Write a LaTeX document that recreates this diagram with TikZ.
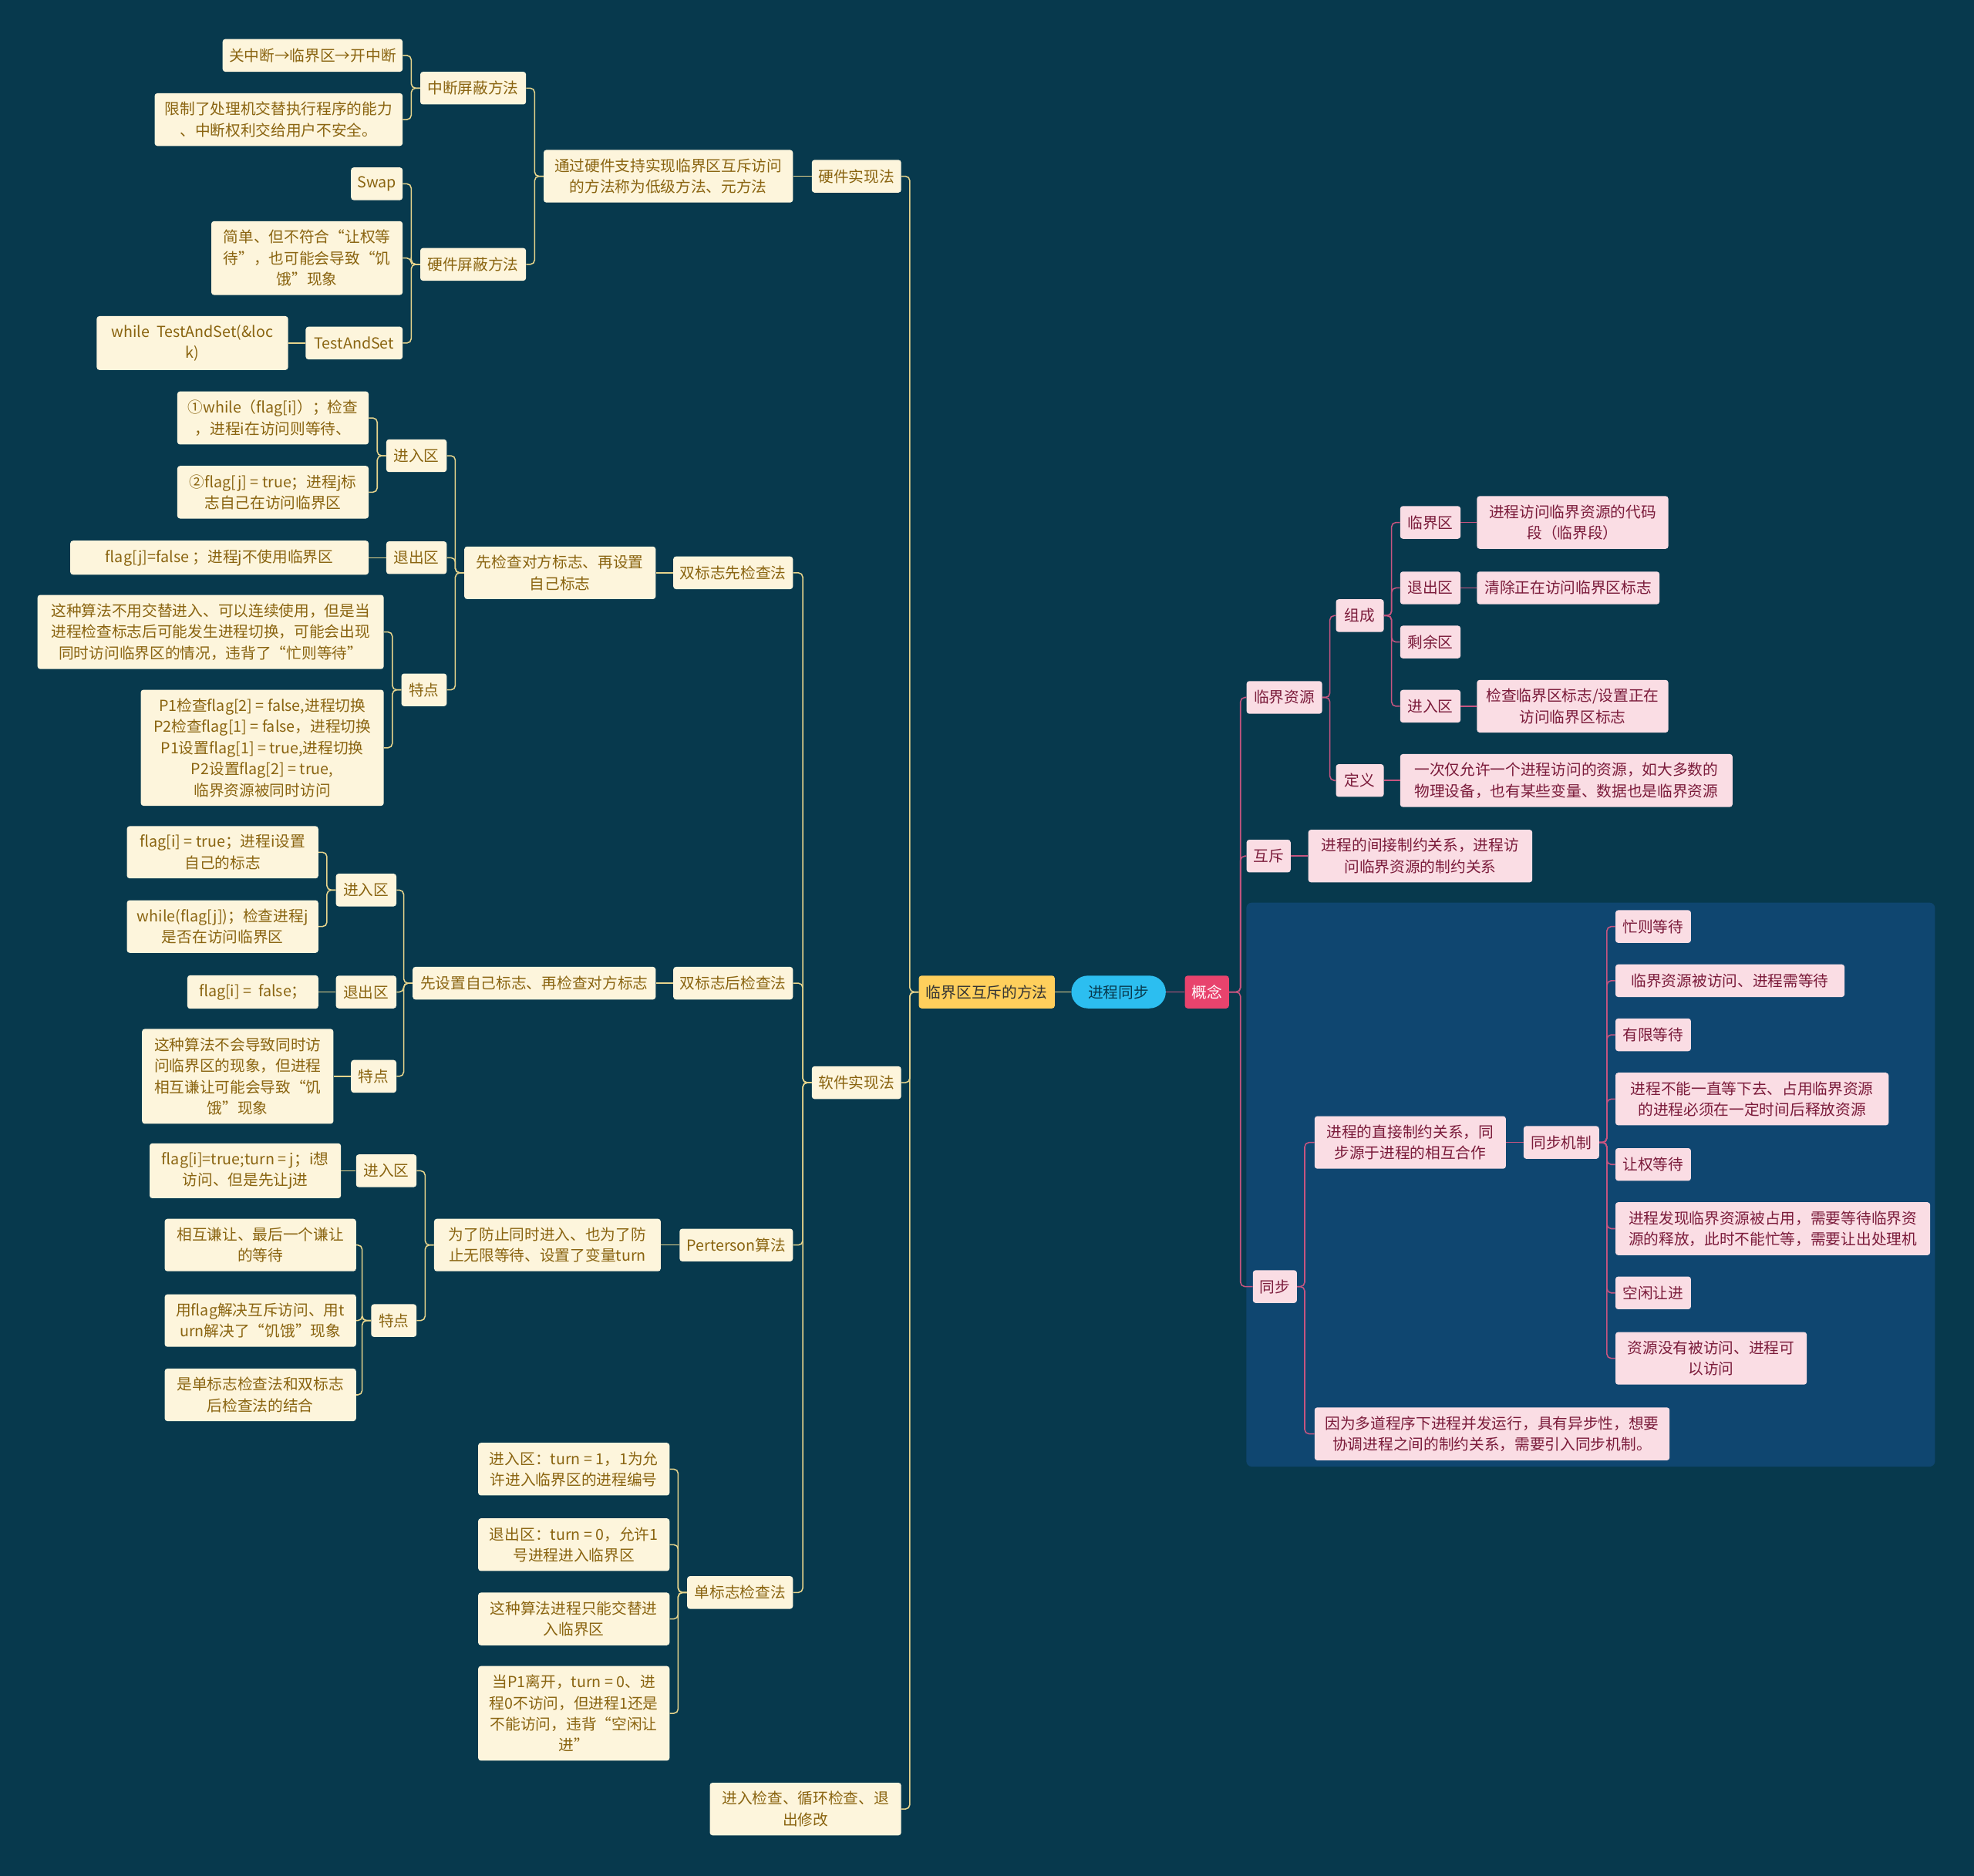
\documentclass[tikz,border=0pt]{standalone}
\usepackage{fontspec}
\setmainfont{Noto Sans CJK SC}
\definecolor{bg}{HTML}{07394D}
\definecolor{panel}{HTML}{0F4670}
\definecolor{cream}{HTML}{FDF5DC}
\definecolor{gold}{HTML}{8A6410}
\definecolor{blush}{HTML}{FADDE4}
\definecolor{wine}{HTML}{7B1B3A}
\definecolor{lcol}{HTML}{E6D48C}
\definecolor{rcol}{HTML}{C75580}
\definecolor{mthcol}{HTML}{FFCF5C}
\definecolor{rootcol}{HTML}{2CBEF0}
\definecolor{gncol}{HTML}{E8436D}
\tikzset{
  box/.style={rounded corners=2.5pt, inner xsep=4pt, inner ysep=8pt, minimum height=1.06cm,
    align=center, font=\fontsize{14pt}{19.5pt}\selectfont},
  lbox/.style={box, fill=cream, text=gold, anchor=east},
  rbox/.style={box, fill=blush, text=wine, anchor=west},
  bw/.style={minimum width=#1*0.0408cm},
  lline/.style={draw=lcol, line width=1.1pt, rounded corners=4pt},
  rline/.style={draw=rcol, line width=1.1pt, rounded corners=4pt},
}
\begin{document}
\begin{tikzpicture}[x=0.0408cm, y=-0.0408cm]
\useasboundingbox[fill=bg] (0,0) rectangle (1568,1490);
\fill[panel, rounded corners=5pt] (990,717) rectangle (1537,1165);

% centre
\node[box, fill=rootcol, text=bg, rounded corners=0.53cm, bw=75] (root) at (888.5,788) {进程同步};
\node[lbox, bw=108, fill=mthcol, text=black!80] (mth) at (838,788) {临界区互斥的方法};
\node[rbox, bw=35, fill=gncol, text=white] (gn) at (941,788) {概念};

% hardware
\node[lbox, bw=71] (hw) at (716,140) {硬件实现法};
\node[lbox, bw=71] (sw) at (716,860) {软件实现法};
\node[lbox, bw=152] (ck) at (716,1437) {进入检查、循环检查、退\\出修改};
\node[lbox, bw=198] (hwdef) at (630,140) {通过硬件支持实现临界区互斥访问\\的方法称为低级方法、元方法};
\node[lbox, bw=84] (int) at (418,70) {中断屏蔽方法};
\node[lbox, bw=84] (hwm) at (418,210) {硬件屏蔽方法};
\node[lbox, bw=143] (int1) at (320,44) {关中断→临界区→开中断};
\node[lbox, bw=197] (int2) at (320,95) {限制了处理机交替执行程序的能力\\、中断权利交给用户不安全。};
\node[lbox, bw=41] (swp) at (320,146) {Swap};
\node[lbox, bw=152] (hwm2) at (320,205) {简单、但不符合“让权等\\待”，也可能会导致“饥\\饿”现象};
\node[lbox, bw=77] (tas) at (320,272.5) {TestAndSet};
\node[lbox, bw=152] (tas1) at (229,272.5) {while\ \ TestAndSet(\&loc\\k)};

% software
\node[lbox, bw=95] (dfa) at (630,455) {双标志先检查法};
\node[lbox, bw=95] (dfb) at (630,781) {双标志后检查法};
\node[lbox, bw=90] (pt) at (630,989) {Perterson算法};
\node[lbox, bw=84] (sf) at (630,1265) {单标志检查法};

\node[lbox, bw=152] (dfa0) at (521,455) {先检查对方标志、再设置\\自己标志};
\node[lbox, bw=48] (dfaIn) at (355,362) {进入区};
\node[lbox, bw=48] (dfaOut) at (355,443) {退出区};
\node[lbox, bw=36] (dfaFt) at (355,548) {特点};
\node[lbox, bw=152] (dfaIn1) at (293,332) {①while（flag[i]）；检查\\，进程i在访问则等待、};
\node[lbox, bw=152] (dfaIn2) at (293,391) {②flag[j] = true；进程j标\\志自己在访问临界区};
\node[lbox, bw=237] (dfaOut1) at (293,443) {flag[j]=false ；进程j不使用临界区};
\node[lbox, bw=275] (dfaFt1) at (305,502) {这种算法不用交替进入、可以连续使用，但是当\\进程检查标志后可能发生进程切换，可能会出现\\同时访问临界区的情况，违背了“忙则等待”};
\node[lbox, bw=193] (dfaFt2) at (305,594) {P1检查flag[2] = false,进程切换\\P2检查flag[1] = false，进程切换\\P1设置flag[1] = true,进程切换\\P2设置flag[2] = true,\\临界资源被同时访问};

\node[lbox, bw=193] (dfb0) at (521,781) {先设置自己标志、再检查对方标志};
\node[lbox, bw=48] (dfbIn) at (315,707) {进入区};
\node[lbox, bw=48] (dfbOut) at (315,788) {退出区};
\node[lbox, bw=36] (dfbFt) at (315,855) {特点};
\node[lbox, bw=152] (dfbIn1) at (253,677) {flag[i] = true；进程i设置\\自己的标志};
\node[lbox, bw=152] (dfbIn2) at (253,736) {while(flag[j])；检查进程j\\是否在访问临界区};
\node[lbox, bw=104] (dfbOut1) at (253,788) {flag[i] =\ \ false；};
\node[lbox, bw=152] (dfbFt1) at (265,855) {这种算法不会导致同时访\\问临界区的现象，但进程\\相互谦让可能会导致“饥\\饿”现象};

\node[lbox, bw=180] (pt0) at (525,989) {为了防止同时进入、也为了防\\止无限等待、设置了变量turn};
\node[lbox, bw=48] (ptIn) at (331,930) {进入区};
\node[lbox, bw=36] (ptFt) at (331,1049) {特点};
\node[lbox, bw=152] (ptIn1) at (271,930) {flag[i]=true;turn = j；i想\\访问、但是先让j进};
\node[lbox, bw=152] (ptFt1) at (283,989) {相互谦让、最后一个谦让\\的等待};
\node[lbox, bw=152] (ptFt2) at (283,1049) {用flag解决互斥访问、用t\\urn解决了“饥饿”现象};
\node[lbox, bw=152] (ptFt3) at (283,1108) {是单标志检查法和双标志\\后检查法的结合};

\node[lbox, bw=152] (sf1) at (532,1167) {进入区：turn = 1，1为允\\许进入临界区的进程编号};
\node[lbox, bw=152] (sf2) at (532,1227) {退出区：turn = 0，允许1\\号进程进入临界区};
\node[lbox, bw=152] (sf3) at (532,1286) {这种算法进程只能交替进\\入临界区};
\node[lbox, bw=152] (sf4) at (532,1361) {当P1离开，turn = 0、进\\程0不访问，但进程1还是\\不能访问，违背“空闲让\\进”};

% concepts
\node[rbox, bw=60] (res) at (990,554) {临界资源};
\node[rbox, bw=35] (mx) at (990,680) {互斥};
\node[rbox, bw=35] (tb) at (995,1022) {同步};
\node[rbox, bw=38] (zc) at (1061,489) {组成};
\node[rbox, bw=38] (dy) at (1061,620) {定义};
\node[rbox, bw=48] (lj) at (1112,415) {临界区};
\node[rbox, bw=48] (tc) at (1112,467) {退出区};
\node[rbox, bw=48] (sy) at (1112,510) {剩余区};
\node[rbox, bw=48] (jr) at (1112,561) {进入区};
\node[rbox, bw=152] (lj1) at (1173,415) {进程访问临界资源的代码\\段（临界段）};
\node[rbox, bw=145] (tc1) at (1173,467) {清除正在访问临界区标志};
\node[rbox, bw=152] (jr1) at (1173,561) {检查临界区标志/设置正在\\访问临界区标志};
\node[rbox, bw=264] (dy1) at (1112,620) {一次仅允许一个进程访问的资源，如大多数的\\物理设备，也有某些变量、数据也是临界资源};
\node[rbox, bw=178] (mx1) at (1039,680) {进程的间接制约关系，进程访\\问临界资源的制约关系};
\node[rbox, bw=152] (tb1) at (1044,907.5) {进程的直接制约关系，同\\步源于进程的相互合作};
\node[rbox, bw=282] (tb2) at (1044,1139) {因为多道程序下进程并发运行，具有异步性，想要\\协调进程之间的制约关系，需要引入同步机制。};
\node[rbox, bw=60] (jz) at (1210,907.5) {同步机制};
\node[rbox, bw=60] (m1) at (1283,736) {忙则等待};
\node[rbox, bw=182] (m2) at (1283,779) {临界资源被访问、进程需等待};
\node[rbox, bw=60] (m3) at (1283,822) {有限等待};
\node[rbox, bw=217] (m4) at (1283,873) {进程不能一直等下去、占用临界资源\\的进程必须在一定时间后释放资源};
\node[rbox, bw=60] (m5) at (1283,925) {让权等待};
\node[rbox, bw=250] (m6) at (1283,976) {进程发现临界资源被占用，需要等待临界资\\源的释放，此时不能忙等，需要让出处理机};
\node[rbox, bw=60] (m7) at (1283,1027) {空闲让进};
\node[rbox, bw=152] (m8) at (1283,1079) {资源没有被访问、进程可\\以访问};

% connectors
\draw[lline] (root) -- (mth);
\draw[rline] (root) -- (gn);
\foreach \p/\c in {mth/hw, mth/sw, mth/ck, hwdef/int, hwdef/hwm,
    int/int1, int/int2, hwm/swp, hwm/hwm2, hwm/tas,
    sw/dfa, sw/dfb, sw/pt, sw/sf,
    dfa0/dfaIn, dfa0/dfaOut, dfa0/dfaFt, dfaIn/dfaIn1, dfaIn/dfaIn2,
    dfaFt/dfaFt1, dfaFt/dfaFt2,
    dfb0/dfbIn, dfb0/dfbOut, dfb0/dfbFt, dfbIn/dfbIn1, dfbIn/dfbIn2,
    pt0/ptIn, pt0/ptFt, ptFt/ptFt1, ptFt/ptFt2, ptFt/ptFt3,
    sf/sf1, sf/sf2, sf/sf3, sf/sf4}
  \draw[lline] (\p.west) -- ++(-7,0) |- (\c.east);
\foreach \p/\c in {hw/hwdef, tas/tas1, dfa/dfa0, dfaOut/dfaOut1, dfb/dfb0,
    dfbOut/dfbOut1, dfbFt/dfbFt1, pt/pt0, ptIn/ptIn1}
  \draw[lline] (\p.west) -- (\c.east);
\foreach \c in {res, mx, tb}
  \draw[rline] (gn.east) -- ++(9,0) |- (\c.west);
\foreach \p/\c in {res/zc, res/dy, zc/lj, zc/tc, zc/sy, zc/jr, tb/tb1, tb/tb2,
    jz/m1, jz/m2, jz/m3, jz/m4, jz/m5, jz/m6, jz/m7, jz/m8}
  \draw[rline] (\p.east) -- ++(6,0) |- (\c.west);
\foreach \p/\c in {lj/lj1, tc/tc1, jr/jr1, dy/dy1, mx/mx1, tb1/jz}
  \draw[rline] (\p.east) -- (\c.west);
\end{tikzpicture}
\end{document}
